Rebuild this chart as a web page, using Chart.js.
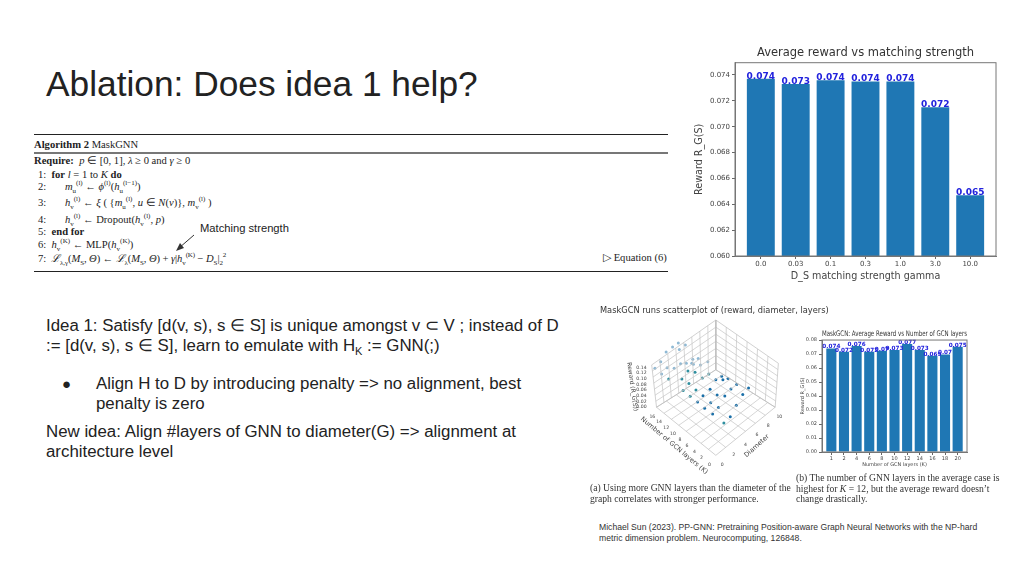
<!DOCTYPE html>
<html>
<head>
<meta charset="utf-8">
<title>Ablation: Does idea 1 help?</title>
<script src="https://cdn.jsdelivr.net/npm/chart.js@4/dist/chart.umd.min.js"></script>
<style>
  html, body { margin: 0; padding: 0; background: #fff; }
  body { width: 1024px; height: 576px; position: relative; overflow: hidden; font-family: "Liberation Sans", sans-serif; color: #222; }
  .t { position: absolute; white-space: nowrap; }
  .body { font-size: 16.85px; line-height: 19px; }
  .alg { font-family: "Liberation Serif", serif; font-size: 10.6px; color: #222; line-height: 12px; }
  .alg i { font-style: italic; }
  .alg sub, .alg sup { font-size: 7px; line-height: 0; }
  .rule { position: absolute; left: 34px; width: 634px; background: #222; }
  .cap { font-family: "Liberation Serif", serif; font-size: 9.65px; line-height: 12px; color: #333; }
  .wrap { position: absolute; }
  .wrap canvas { display: block; }
  .pics { filter: blur(0.35px); }
</style>
</head>
<body>
<div class="t" style="left:46px;top:64px;font-size:35.3px;line-height:40px">Ablation: Does idea 1 help?</div>

<div class="rule" style="top:134px;height:1px"></div>
<div class="rule" style="top:152px;height:2px;background:#777"></div>
<div class="rule" style="top:271px;height:1px"></div>
<div class="t alg" style="left:34px;top:139px"><b>Algorithm 2</b> MaskGNN</div>
<div class="t alg" style="left:34px;top:155px"><b>Require:</b>&nbsp; <i>p</i> ∈ [0, 1], <i>λ</i> ≥ 0 and <i>γ</i> ≥ 0</div>
<div class="t alg" style="left:38px;top:169px">1: &nbsp;<b>for</b> <i>l</i> = 1 to <i>K</i> <b>do</b></div>
<div class="t alg" style="left:38px;top:181px">2: <span style="margin-left:16px"><i>m</i><sub>u</sub><sup>(l)</sup> ← <i>ϕ</i><sup>(l)</sup>(<i>h</i><sub>u</sub><sup>(l−1)</sup>)</span></div>
<div class="t alg" style="left:38px;top:197px">3: <span style="margin-left:16px"><i>h</i><sub>v</sub><sup>(l)</sup> ← <i>ξ</i> ( {<i>m</i><sub>u</sub><sup>(l)</sup>, <i>u</i> ∈ <i>N</i>(<i>v</i>)}, <i>m</i><sub>v</sub><sup>(l)</sup> )</span></div>
<div class="t alg" style="left:38px;top:214px">4: <span style="margin-left:16px"><i>h</i><sub>v</sub><sup>(l)</sup> ← Dropout(<i>h</i><sub>v</sub><sup>(l)</sup>, <i>p</i>)</span></div>
<div class="t alg" style="left:38px;top:226px">5: &nbsp;<b>end for</b></div>
<div class="t alg" style="left:38px;top:239px">6: &nbsp;<i>h</i><sub>v</sub><sup>(K)</sup> ← MLP(<i>h</i><sub>v</sub><sup>(K)</sup>)</div>
<div class="t alg" style="left:38px;top:253px;letter-spacing:-0.1px">7: &nbsp;<i>ℒ</i><sub>λ,γ</sub>(<i>M</i><sub>S</sub>, <i>Θ</i>) ← <i>ℒ</i><sub>λ</sub>(<i>M</i><sub>S</sub>, <i>Θ</i>) + <i>γ</i>|<i>h</i><sub>v</sub><sup>(K)</sup> − <i>D</i><sub>S</sub>|<sub>2</sub><sup>2</sup></div>
<div class="t alg" style="left:603px;top:252px">▷ Equation (6)</div>

<div class="t" style="left:200px;top:222px;font-size:11.2px;line-height:13px">Matching strength</div>
<svg class="t" style="left:170px;top:230px" width="30" height="25">
  <line x1="24" y1="5" x2="9" y2="18" stroke="#333" stroke-width="1"/>
  <polygon points="6,21 10,13 14,18" fill="#333"/>
</svg>

<div class="t body" style="left:46px;top:316px">Idea 1: Satisfy [d(v, s), s ∈ S] is unique amongst v ⊂ V ; instead of D</div>
<div class="t body" style="left:46px;top:336px">:= [d(v, s), s ∈ S], learn to emulate with H<sub style="font-size:11px;line-height:0">K</sub> := GNN(;)</div>
<div class="t body" style="left:62px;top:374px;font-size:15px">●</div>
<div class="t body" style="left:96px;top:374px">Align H to D by introducing penalty =&gt; no alignment, best</div>
<div class="t body" style="left:96px;top:394px">penalty is zero</div>
<div class="t body" style="left:46px;top:422px">New idea: Align #layers of GNN to diameter(G) =&gt; alignment at</div>
<div class="t body" style="left:46px;top:442px">architecture level</div>

<div class="pics">
  <div class="wrap" style="left:690px;top:42px;width:334px;height:240px"><canvas id="gammaChart"></canvas></div>
  <div class="wrap" style="left:790px;top:326px;width:200px;height:142px"><canvas id="layersChart"></canvas></div>
  <div class="wrap" style="left:590px;top:300px;width:210px;height:210px"><canvas id="scatterChart"></canvas></div>
  <div class="t" style="left:600px;top:305px;font:8.25px 'DejaVu Sans',sans-serif;color:#333">MaskGCN runs scatterplot of (reward, diameter, layers)</div>
  <div class="t cap" style="left:590px;top:482px">(a) Using more GNN layers than the diameter of the</div>
  <div class="t cap" style="left:590px;top:493px">graph correlates with stronger performance.</div>
  <div class="t cap" style="left:796px;top:472px">(b) The number of GNN layers in the average case is</div>
  <div class="t cap" style="left:796px;top:483px">highest for <i>K</i> = 12, but the average reward doesn’t</div>
  <div class="t cap" style="left:796px;top:493px">change drastically.</div>
</div>

<div class="t" style="left:599px;top:522px;font-size:8.63px;line-height:11px;color:#333">Michael Sun (2023). PP-GNN: Pretraining Position-aware Graph Neural Networks with the NP-hard<br>metric dimension problem. Neurocomputing, 126848.</div>

<script>
'use strict';

var gammaLabels = ['0.0', '0.03', '0.1', '0.3', '1.0', '3.0', '10.0'];
var gammaRewards = [0.0737, 0.0733, 0.0736, 0.0735, 0.0735, 0.0715, 0.0647];
var gammaText = ['0.074', '0.073', '0.074', '0.074', '0.074', '0.072', '0.065'];
var gammaTicks = [0.060, 0.062, 0.064, 0.066, 0.068, 0.070, 0.072, 0.074];

var layerLabels = ['1', '2', '4', '6', '8', '10', '12', '14', '16', '18', '20'];
var layerRewards = [0.0740, 0.0716, 0.0757, 0.0716, 0.0723, 0.0728, 0.0771, 0.0728, 0.0688, 0.0697, 0.0752];
var layerText = ['0.074', '0.072', '0.076', '0.072', '0.07', '0.073', '0.077', '0.073', '0.069', '0.07', '0.075'];
var layerTicks = [0, 0.01, 0.02, 0.03, 0.04, 0.05, 0.06, 0.07, 0.08];

var frontX = [482, 464, 445, 427, 408, 444, 425, 388, 370, 364, 345, 323, 384, 362, 340, 380, 402, 418, 398];
var frontY = [262, 282, 251, 265, 287, 316, 352, 323, 343, 308, 325, 306, 284, 266, 286, 236, 236, 232, 225];
var midX = [405, 358, 338, 318, 300, 278, 296, 274, 315, 293, 233];
var midY = [371, 218, 231, 268, 288, 270, 248, 234, 213, 209, 234];
var backX = [332, 355, 308, 270, 250, 211, 190, 228, 208, 225, 245, 263, 285, 266, 288, 305, 325, 310];
var backY = [190, 180, 172, 186, 200, 218, 200, 199, 180, 150, 134, 122, 128, 142, 185, 185, 170, 188];

var rewardTicks = ['0.14', '0.12', '0.10', '0.08', '0.06', '0.04', '0.02', '0.00'];
var layerAxisTicks = ['16', '14', '12', '10', '8', '6', '4', '2', '0'];
var diameterTicks = ['0', '2', '4', '6', '8', '10'];

var BLUE = '#1f77b4';

function framePlugin(color) {
  return {
    id: 'frame',
    afterDraw: function(chart) {
      var a = chart.chartArea;
      var c = chart.ctx;
      c.save();
      c.strokeStyle = color;
      c.lineWidth = 1;
      c.strokeRect(a.left, a.top, a.right - a.left, a.bottom - a.top);
      c.restore();
    }
  };
}

function valuePlugin(texts, fontSize) {
  return {
    id: 'values',
    afterDatasetsDraw: function(chart) {
      var c = chart.ctx;
      var bars = chart.getDatasetMeta(0).data;
      c.save();
      c.fillStyle = '#2222dd';
      c.font = 'bold ' + fontSize + 'px "DejaVu Sans"';
      c.textAlign = 'center';
      c.textBaseline = 'alphabetic';
      for (var i = 0; i < bars.length; i++) {
        c.fillText(texts[i], bars[i].x, bars[i].y);
      }
      c.restore();
    }
  };
}

function makeBarChart(id, opts) {
  var points = [];
  for (var i = 0; i < opts.rewards.length; i++) {
    points.push({ x: i, y: opts.rewards[i] });
  }
  return new Chart(document.getElementById(id).getContext('2d'), {
    type: 'bar',
    data: {
      datasets: [{
        data: points,
        backgroundColor: BLUE,
        barPercentage: 0.8,
        categoryPercentage: 1
      }]
    },
    options: {
      responsive: true,
      maintainAspectRatio: false,
      animation: false,
      layout: { padding: opts.padding },
      plugins: {
        legend: { display: false },
        tooltip: { enabled: false },
        title: {
          display: true,
          fullSize: false,
          text: opts.title,
          color: '#333',
          font: { family: 'DejaVu Sans', size: opts.titleSize, weight: 'normal' },
          padding: opts.titlePadding
        }
      },
      scales: {
        x: {
          type: 'linear',
          offset: false,
          min: -0.74,
          max: opts.rewards.length - 1 + 0.74,
          afterBuildTicks: function(scale) {
            scale.ticks = opts.labels.map(function(l, n) { return { value: n }; });
          },
          afterFit: function(scale) { scale.height = opts.xHeight; },
          ticks: {
            autoSkip: false,
            maxRotation: 0,
            padding: 1,
            color: '#444',
            font: { family: 'DejaVu Sans', size: opts.tickSize },
            callback: function(v) { return opts.labels[v]; }
          },
          grid: { offset: false, drawOnChartArea: false, tickLength: 3, color: '#666' },
          border: { color: '#777' },
          title: {
            display: true,
            text: opts.xTitle,
            color: '#444',
            padding: { top: 1, bottom: 0 },
            font: { family: 'DejaVu Sans', size: opts.axisSize }
          }
        },
        y: {
          min: opts.yMin,
          max: opts.yMax,
          afterBuildTicks: function(scale) {
            scale.ticks = opts.yTicks.map(function(v) { return { value: v }; });
          },
          afterFit: function(scale) { scale.width = opts.yWidth; },
          ticks: {
            padding: 2,
            color: '#444',
            font: { family: 'DejaVu Sans', size: opts.tickSize },
            callback: function(v) { return v.toFixed(opts.decimals); }
          },
          grid: { drawOnChartArea: false, tickLength: 3, color: '#666' },
          border: { color: '#777' },
          title: {
            display: true,
            text: 'Reward R_G(S)',
            color: '#444',
            padding: 0,
            font: { family: 'DejaVu Sans', size: opts.axisSize }
          }
        }
      }
    },
    plugins: [framePlugin('#777'), valuePlugin(opts.text, opts.valueSize)]
  });
}

makeBarChart('gammaChart', {
  labels: gammaLabels, rewards: gammaRewards, text: gammaText, yTicks: gammaTicks,
  yMin: 0.060, yMax: 0.07495, decimals: 3,
  title: 'Average reward vs matching strength', xTitle: 'D_S matching strength gamma',
  padding: { left: 4, right: 28, top: 0, bottom: 0 },
  yWidth: 41, xHeight: 26,
  titleSize: 11.5, titlePadding: { top: 4.1, bottom: 2.8 }, tickSize: 7, axisSize: 9.6, valueSize: 9
});

makeBarChart('layersChart', {
  labels: layerLabels, rewards: layerRewards, text: layerText, yTicks: layerTicks,
  yMin: 0, yMax: 0.08, decimals: 2,
  title: 'MaskGCN: Average Reward vs Number of GCN layers', xTitle: 'Number of GCN layers (K)',
  padding: { left: 10, right: 23, top: 0, bottom: 0 },
  yWidth: 22, xHeight: 16,
  titleSize: 7.7, titlePadding: { top: 3.4, bottom: 1.4 }, tickSize: 5, axisSize: 5, valueSize: 5.7
});

function toPoints(xs, ys) {
  var out = [];
  for (var i = 0; i < xs.length; i++) {
    out.push({ x: xs[i], y: ys[i] });
  }
  return out;
}

function dots(xs, ys, color) {
  return { data: toPoints(xs, ys), showLine: false, pointRadius: 1.5, pointBackgroundColor: color, pointBorderWidth: 0 };
}

// box of the 3d plot: floor and the two back walls, with their grid
function pane(a, b, c, d, fill) {
  return {
    data: [a, b, c, d, a], showLine: true, pointRadius: 0, borderWidth: 0.7,
    borderColor: '#bdbdbd', backgroundColor: fill, fill: true, tension: 0
  };
}

function gridLines(a, b, c, d, n) {
  var sets = [];
  for (var i = 1; i < n; i++) {
    var t = i / n;
    sets.push({
      data: [
        { x: a.x + (b.x - a.x) * t, y: a.y + (b.y - a.y) * t },
        { x: d.x + (c.x - d.x) * t, y: d.y + (c.y - d.y) * t }
      ],
      showLine: true, pointRadius: 0, borderWidth: 0.7, borderColor: '#c4c4c4', fill: false
    });
  }
  return sets;
}

var fFront = { x: 380, y: 472 }, fLeft = { x: 195, y: 322 }, fRight = { x: 565, y: 322 }, fBack = { x: 380, y: 205 };
var tLeft = { x: 180, y: 190 }, tRight = { x: 575, y: 185 }, tBack = { x: 380, y: 50 };

var scatterSets = [
  pane(fFront, fRight, fBack, fLeft, 'rgba(240,240,240,0.7)'),
  pane(fLeft, fBack, tBack, tLeft, 'rgba(246,246,246,0.7)'),
  pane(fBack, fRight, tRight, tBack, 'rgba(244,244,244,0.7)')
]
  .concat(gridLines(fFront, fRight, fBack, fLeft, 6))
  .concat(gridLines(fFront, fLeft, fBack, fRight, 8))
  .concat(gridLines(fLeft, fBack, tBack, tLeft, 8))
  .concat(gridLines(fLeft, tLeft, tBack, fBack, 7))
  .concat(gridLines(fBack, fRight, tRight, tBack, 6))
  .concat(gridLines(fBack, tBack, tRight, fRight, 7));
scatterSets.push(dots(backX, backY, '#8fb9d4'));
scatterSets.push(dots(midX, midY, '#2f8f9f'));
scatterSets.push(dots(frontX, frontY, '#1a6fa8'));

var axisText = {
  id: 'axisText',
  afterDraw: function(chart) {
    var c = chart.ctx;
    var sx = chart.scales.x, sy = chart.scales.y;
    function label(t, x, y, size, angle) {
      c.save();
      c.translate(sx.getPixelForValue(x), sy.getPixelForValue(y));
      c.rotate((angle || 0) * Math.PI / 180);
      c.font = size + 'px "DejaVu Sans"';
      c.fillStyle = '#444';
      c.textAlign = 'center';
      c.textBaseline = 'middle';
      c.fillText(t, 0, 0);
      c.restore();
    }
    var zY = [198, 214, 234, 252, 269, 287, 304, 322];
    rewardTicks.forEach(function(t, i) { label(t, 148, zY[i], 4.6); });
    var lX = [182, 203, 225, 246, 268, 290, 313, 335, 360];
    var lY = [352, 368, 386, 405, 423, 442, 461, 480, 500];
    layerAxisTicks.forEach(function(t, i) { label(t, lX[i], lY[i], 4.6); });
    var dX = [400, 436, 472, 508, 543, 578];
    var dY = [500, 470, 438, 408, 380, 351];
    diameterTicks.forEach(function(t, i) { label(t, dX[i], dY[i], 4.6); });
    label('Reward (R_G(S))', 119, 258, 6, 82);
    label('Number of GCN layers (K)', 250, 442, 6.6, 40);
    label('Diameter', 508, 443, 6.6, -42);
  }
};

new Chart(document.getElementById('scatterChart').getContext('2d'), {
  type: 'scatter',
  data: { datasets: scatterSets },
  options: {
    responsive: true,
    maintainAspectRatio: false,
    animation: false,
    plugins: { legend: { display: false }, tooltip: { enabled: false } },
    scales: {
      x: { display: false, min: 0, max: 630 },
      y: { display: false, min: 0, max: 630, reverse: true }
    }
  },
  plugins: [axisText]
});
</script>
</body>
</html>
